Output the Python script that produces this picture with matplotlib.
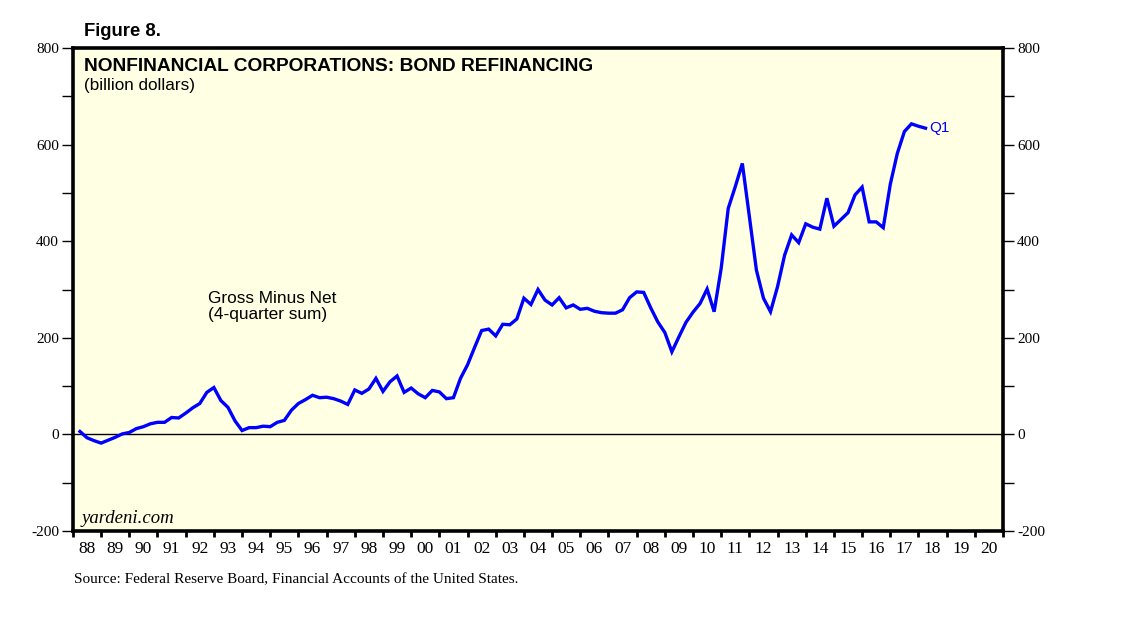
# %% Imports
import numpy as np
import matplotlib

matplotlib.use("Agg")
import matplotlib.pyplot as plt
from matplotlib.ticker import FixedLocator, NullFormatter, FuncFormatter

# %% data: gross minus net bond issuance, 4-quarter sum (billion dollars)
first_year = 1988
# one row per year, quarters Q1..Q4 (2018 only has Q1)
refinancing = [
    [6, -7, -13, -18],  # 1988
    [-12, -6, 1, 4],
    [12, 16, 22, 25],  # 1990
    [25, 35, 34, 44],
    [55, 64, 87, 97],
    [70, 56, 28, 8],
    [14, 14, 17, 16],
    [25, 29, 50, 64],  # 1995
    [72, 81, 76, 77],
    [74, 69, 62, 92],
    [85, 94, 116, 89],
    [109, 121, 87, 96],
    [84, 76, 91, 88],  # 2000
    [74, 76, 116, 144],
    [180, 215, 218, 204],
    [228, 227, 239, 282],
    [269, 300, 278, 268],
    [283, 262, 268, 259],  # 2005
    [261, 255, 252, 251],
    [251, 258, 283, 295],
    [294, 262, 233, 211],
    [171, 202, 232, 253],
    [271, 301, 254, 344],  # 2010
    [468, 513, 561, 451],
    [340, 282, 254, 306],
    [371, 413, 397, 436],
    [429, 425, 489, 431],
    [445, 459, 496, 512],  # 2015
    [440, 440, 428, 518],
    [582, 627, 643, 638],
    [634],  # 2018
]
year_labels = [f"{y % 100:02d}" for y in range(1988, 2021)]
y_ticks = [-200, 0, 200, 400, 600, 800]
last_label = "Q1"

# quarter q of year y is plotted at the end of that quarter
values = np.array([v for row in refinancing for v in row], dtype=float)
dates = np.array(
    [first_year + i + (q + 1) / 4 for i, row in enumerate(refinancing) for q in range(len(row))]
)

# %% figure
serif = "Liberation Serif"
sans = "Liberation Sans"

fig = plt.figure(figsize=(11.38, 6.25), dpi=100)
ax = fig.add_axes([0.0641, 0.1504, 0.8173, 0.7728])
ax.set_facecolor("#ffffe3")

ax.plot(dates, values, color="#0000ff", lw=2.4, solid_joinstyle="miter", zorder=3)
ax.axhline(0, color="black", lw=1.0, zorder=2)

ax.set_xlim(1988, 2021)
ax.set_ylim(-200, 800)

# === frame ===
for side in ["left", "right", "top", "bottom"]:
    ax.spines[side].set_linewidth(2.6)
    ax.spines[side].set_color("black")

# === y axis, both sides ===
ax.yaxis.set_major_locator(FixedLocator(y_ticks))
ax.yaxis.set_minor_locator(FixedLocator(np.arange(-100, 800, 200)))
ax.yaxis.set_major_formatter(FuncFormatter(lambda v, p: f"{int(v)}".replace("\u2212", "-")))
ax.tick_params(
    axis="y", which="both", direction="out", length=8, width=1.0,
    left=True, right=True, labelleft=True, labelright=True,
    labelsize=11, pad=2,
)
for lab in ax.get_yticklabels():
    lab.set_fontfamily(serif)

# === x axis: ticks at year boundaries, labels centered in between ===
ax.xaxis.set_major_locator(FixedLocator(np.arange(1988, 2022)))
ax.xaxis.set_major_formatter(NullFormatter())
ax.xaxis.set_minor_locator(FixedLocator(np.arange(1988, 2021) + 0.5))
ax.xaxis.set_minor_formatter(FuncFormatter(lambda v, p: year_labels[int(v - 1988)]))
ax.tick_params(axis="x", which="major", direction="out", length=4.5, width=2.0)
ax.tick_params(axis="x", which="minor", length=0, labelsize=12.5, pad=7)
for lab in ax.get_xticklabels(minor=True):
    lab.set_fontfamily(serif)

# === texts ===
fig.text(84 / 1138, 1 - 31 / 625, "Figure 8.", fontsize=13.3, fontweight="bold",
         family=sans, va="center", ha="left")
ax.text(0.012, 0.979, "NONFINANCIAL CORPORATIONS: BOND REFINANCING", transform=ax.transAxes,
        fontsize=13.8, fontweight="bold", family=sans, va="top", ha="left")
ax.text(0.012, 0.938, "(billion dollars)", transform=ax.transAxes,
        fontsize=12.3, family=sans, va="top", ha="left")
ax.text(0.145, 0.497, "Gross Minus Net\n(4-quarter sum)", transform=ax.transAxes,
        fontsize=12.4, family=sans, va="top", ha="left", linespacing=1.12)
ax.text(0.009, 0.008, "yardeni.com", transform=ax.transAxes,
        fontsize=13.5, family=serif, style="italic", va="bottom", ha="left")
ax.annotate(last_label, xy=(dates[-1], values[-1]), xytext=(3, 0), textcoords="offset points",
            color="#0000ff", fontsize=11, family=sans, va="center", ha="left")
fig.text(74 / 1138, 1 - 580 / 625,
         "Source: Federal Reserve Board, Financial Accounts of the United States.",
         fontsize=11, family=serif, va="center", ha="left")

fig.savefig("out.png", dpi=100)
